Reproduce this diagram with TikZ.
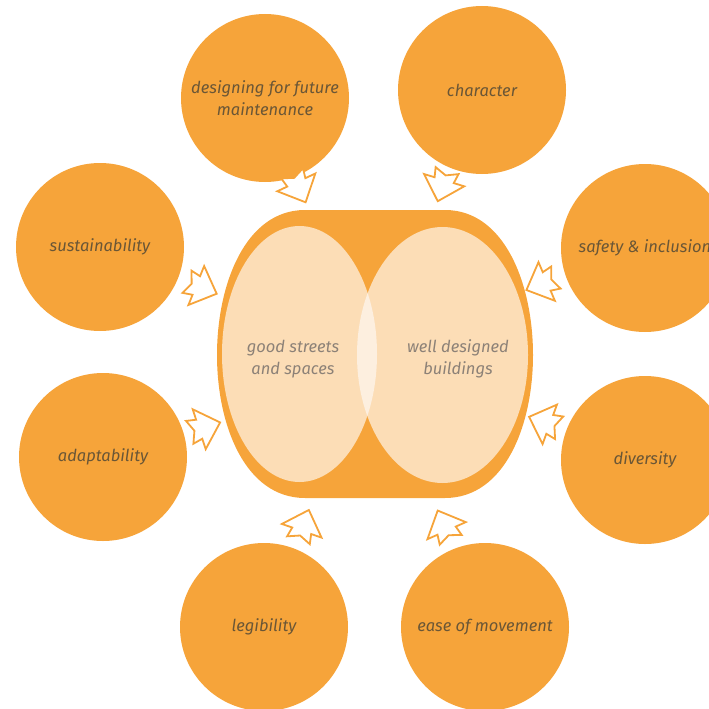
\documentclass[tikz,border=0pt]{standalone}
\usepackage{fontspec}
\setmainfont{Fira Sans}
\definecolor{bubbleorange}{HTML}{F6A43A}
\definecolor{peach}{HTML}{FCDDB6}
\definecolor{lens}{HTML}{FDEFDF}
\definecolor{labelbrown}{HTML}{6A5636}
\definecolor{labelgrey}{HTML}{8C8177}
\begin{document}
\begin{tikzpicture}[x=1pt,y=-1pt,
  bubble/.style={circle, fill=bubbleorange, minimum size=168pt, inner sep=0pt,
    text=labelbrown, align=center, font=\itshape\fontsize{16.5}{22}\selectfont},
  venntext/.style={text=labelgrey, align=center, font=\itshape\fontsize{16.5}{22}\selectfont},
  arrowline/.style={draw=bubbleorange, line width=1.8pt, line join=miter, fill=white},
  blockarrow/.pic={
    \path[arrowline] (18,0) -- (-4,21) -- (-4,10) -- (-14,12) -- (-9,0)
      -- (-14,-12) -- (-4,-10) -- (-4,-21) -- cycle;
  }]
\useasboundingbox (0,0) rectangle (709,709);
\clip (0,0) rectangle (709,709);

% outer rounded body
\fill[bubbleorange] (305,210) -- (445,210)
  .. controls (505,210) and (533,285) .. (533,355)
  .. controls (533,425) and (505,498) .. (445,498)
  -- (305,498)
  .. controls (245,498) and (217,425) .. (217,355)
  .. controls (217,285) and (245,210) .. (305,210) -- cycle;

% two overlapping ellipses and their lens
\fill[peach] (299.5,354) ellipse [x radius=77.5, y radius=128];
\fill[peach] (442.5,355) ellipse [x radius=85.5, y radius=128];
\begin{scope}
  \clip (299.5,354) ellipse [x radius=77.5, y radius=128];
  \fill[lens] (442.5,355) ellipse [x radius=85.5, y radius=128];
\end{scope}
\node[venntext] (streets) at (293,359) {good streets\\and spaces};
\node[venntext] (buildings) at (458,359) {well designed\\buildings};

% surrounding themes
\node[bubble] (maint) at (265,98) {designing for future\\maintenance};
\node[bubble] (character) at (482,90) {character};
\node[bubble] (sustain) at (100,247) {sustainability};
\node[bubble] (safety) at (645,248) {safety \& inclusion};
\node[bubble] (adapt) at (103,457) {adaptability};
\node[bubble] (diversity) at (645,460) {diversity};
\node[bubble] (legible) at (264,627) {legibility};
\node[bubble] (movement) at (485,627) {ease of movement};

% inward pointing block arrows
\pic[rotate=-65] at (298,186) {blockarrow};
\pic[rotate=-107] at (443,184) {blockarrow};
\pic[rotate=-22] at (200,287) {blockarrow};
\pic[rotate=203] at (543,283) {blockarrow};
\pic[rotate=18] at (203,428) {blockarrow};
\pic[rotate=160] at (546,423) {blockarrow};
\pic[rotate=71] at (303,527) {blockarrow};
\pic[rotate=114] at (445,527) {blockarrow};
\end{tikzpicture}
\end{document}
